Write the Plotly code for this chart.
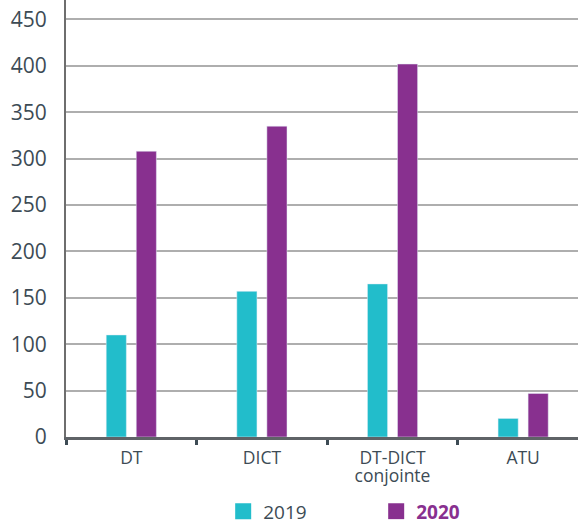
import plotly.graph_objects as go

categories = ["DT", "DICT", "DT-DICT<br>conjointe", "ATU"]
values_2019 = [110, 157, 165, 20]
values_2020 = [308, 335, 402, 47]
series_names = ["2019", "2020"]
y_ticks = [0, 50, 100, 150, 200, 250, 300, 350, 400, 450]

TEAL = "#22BDCB"
PURPLE = "#88308F"
TXT = "#3D4B55"
FONT = "Open Sans"

# tick text: large glyphs with tight line spacing (base font size drives line spacing)
tick_text = ["<br>".join("<span style='font-size:17.5px'>%s</span>" % part for part in c.split("<br>"))
             for c in categories]

fig = go.Figure()
fig.add_trace(go.Bar(x=categories, y=values_2019, marker_color=TEAL, showlegend=False))
fig.add_trace(go.Bar(x=categories, y=values_2020, marker_color=PURPLE, showlegend=False))

# legend entries
fig.add_trace(go.Scatter(x=[None], y=[None], mode="markers", name=series_names[0],
                         marker=dict(symbol="square", size=20, color=TEAL)))
fig.add_trace(go.Scatter(x=[None], y=[None], mode="markers",
                         name="<b><span style='color:%s'>%s</span></b>" % (PURPLE, series_names[1]),
                         marker=dict(symbol="square", size=20, color=PURPLE)))

fig.update_layout(
    width=578, height=525,
    margin=dict(l=66, r=0, t=0, b=88, autoexpand=False),
    paper_bgcolor="white", plot_bgcolor="white",
    barmode="group", bargap=0.54, bargroupgap=0.33,
    font=dict(family=FONT, color=TXT),
    legend=dict(orientation="h", x=0.307, xanchor="left", y=-0.17, yanchor="middle",
                font=dict(size=19, color=TXT), entrywidth=108, itemwidth=30),
    xaxis=dict(
        type="category", range=[-0.5, 3.42],
        tickvals=categories, ticktext=tick_text,
        showline=True, linecolor="#5F6367", linewidth=3,
        ticks="outside", tickson="boundaries", ticklen=5, tickwidth=2.5, tickcolor=TXT,
        tickfont=dict(size=14, color=TXT, family=FONT),
        ticklabelstandoff=7,
        showgrid=False,
    ),
    yaxis=dict(
        range=[0, 471], tickvals=y_ticks,
        showline=True, linecolor="#6E6E6E", linewidth=2,
        showgrid=True, gridcolor="#AEAEAE", gridwidth=1.5,
        zeroline=False,
        ticks="", ticklabelstandoff=13,
        tickfont=dict(size=21, color=TXT, family=FONT),
    ),
)

fig.write_html("out.html", config={"displayModeBar": False},
               post_script="document.body.style.margin='0';document.body.style.overflow='hidden';")
